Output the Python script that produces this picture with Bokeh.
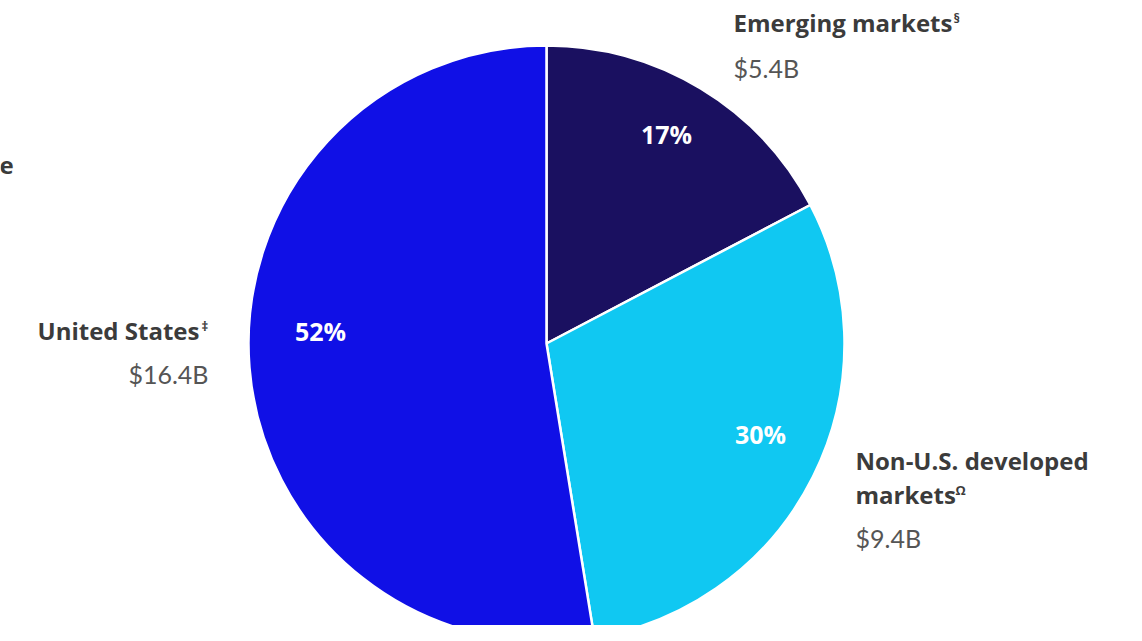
import math
from bokeh.plotting import figure
from bokeh.models import Range1d, ColumnDataSource
from bokeh.core.properties import value
from bokeh.embed import file_html
from bokeh.resources import INLINE

categories = ["Emerging markets", "Non-U.S. developed markets", "United States"]
amounts = [5.4, 9.4, 16.4]
amount_labels = ["$5.4B", "$9.4B", "$16.4B"]
pct_labels = ["17%", "30%", "52%"]
colors = ["#1a1060", "#10c8f2", "#1010e6"]

W, H = 1126, 625
p = figure(width=W, height=H, output_backend="svg", toolbar_location=None,
           x_range=Range1d(0, W), y_range=Range1d(0, H),
           min_border=0, outline_line_color=None)
p.axis.visible = False
p.grid.visible = False
p.background_fill_color = "white"

def Y(sy):
    return H - sy

cx, cy, r = 546, Y(343), 298
total = sum(amounts)
starts, ends = [], []
cum = 0.0
for a in amounts:
    starts.append(math.pi / 2 - cum / total * 2 * math.pi)
    cum += a
    ends.append(math.pi / 2 - cum / total * 2 * math.pi)

src = ColumnDataSource(dict(start=starts, end=ends, color=colors, cat=categories))
p.wedge(x=cx, y=cy, radius=r, start_angle="start", end_angle="end", direction="clock",
        fill_color="color", line_color="white", line_width=2.5, source=src)

LFONT = value("Open Sans")
VFONT = value("Lato")
lab_color = "#3b3b3b"
val_color = "#555555"

# percentage labels
p.text(x=[666, 760, 320], y=[Y(133), Y(433), Y(330)], text=pct_labels,
       text_font=LFONT, text_font_size="25px", text_font_style="bold",
       text_color="white", text_align="center", text_baseline="middle")

# category labels
p.text(x=[733], y=[Y(22)], text=[categories[0]], text_font=LFONT, text_font_size="24px",
       text_font_style="bold", text_color=lab_color, text_align="left", text_baseline="middle")
p.text(x=[855, 855], y=[Y(460), Y(494)], text=["Non-U.S. developed", "markets"], text_font=LFONT,
       text_font_size="24px", text_font_style="bold", text_color=lab_color,
       text_align="left", text_baseline="middle")
p.text(x=[37], y=[Y(330)], text=[categories[2]], text_font=LFONT, text_font_size="24px",
       text_font_style="bold", text_color=lab_color, text_align="left", text_baseline="middle")
# superscripts
p.text(x=[953, 955, 201], y=[Y(17), Y(489), Y(325)], text=["§", "Ω", "‡"], text_font=LFONT,
       text_font_size="13px", text_font_style="bold", text_color=lab_color,
       text_align="left", text_baseline="middle")

# amount labels
p.text(x=[733, 855], y=[Y(67), Y(537)], text=[amount_labels[0], amount_labels[1]], text_font=VFONT,
       text_font_size="25px", text_color=val_color, text_align="left", text_baseline="middle")
p.text(x=[208], y=[Y(373)], text=[amount_labels[2]], text_font=VFONT,
       text_font_size="25px", text_color=val_color, text_align="right", text_baseline="middle")

# truncated label fragment at the left edge
p.text(x=[-1], y=[Y(165)], text=["e"], text_font=LFONT, text_font_size="24px",
       text_font_style="bold", text_color=lab_color, text_align="left", text_baseline="middle")

open("out.html", "w").write(file_html(p, INLINE))
